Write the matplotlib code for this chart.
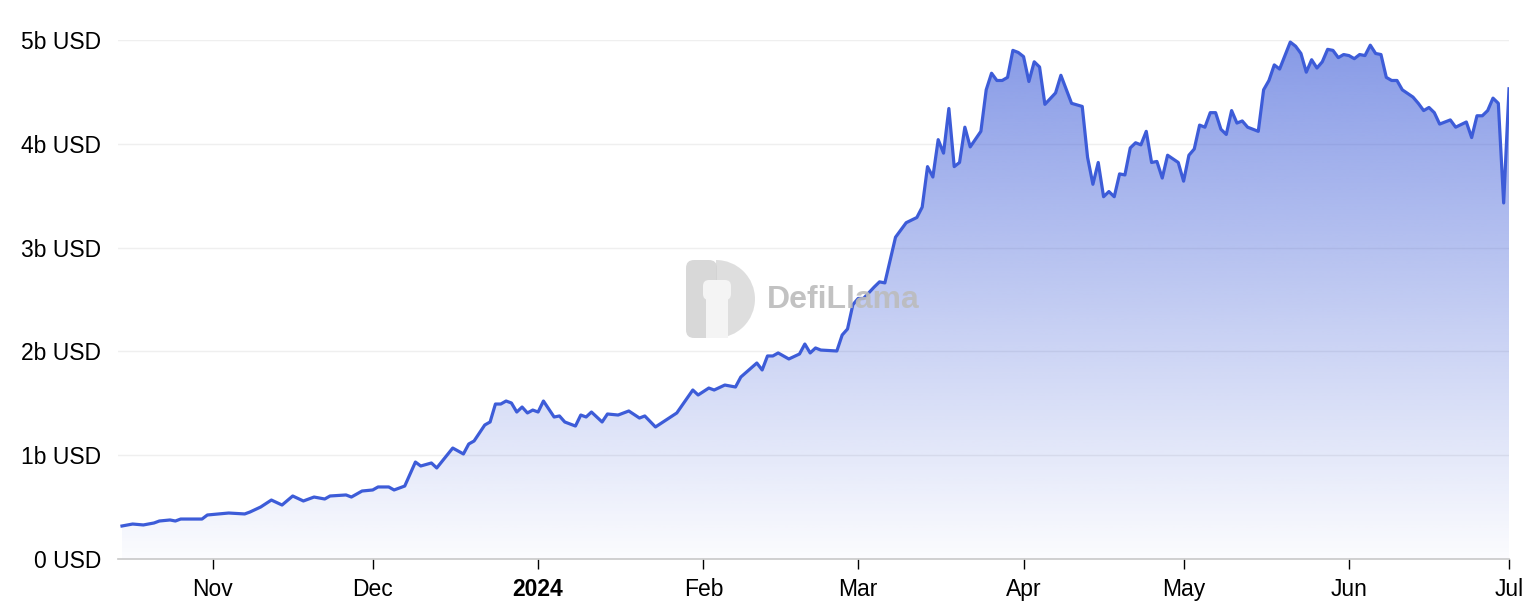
import numpy as np
import pandas as pd
import matplotlib
matplotlib.use('Agg')
import matplotlib.pyplot as plt
import matplotlib.dates as mdates
from matplotlib.patches import FancyBboxPatch, Wedge, Rectangle
from matplotlib.transforms import Affine2D

plt.rcParams['font.family'] = ['Liberation Sans', 'DejaVu Sans']

# Data: days since 2023-10-15, TVL in billions of USD
start_date = '2023-10-15'
day_offset = [
    0, 2, 4, 6, 7, 9, 10, 11, 15, 16, 18, 20, 23, 24, 26, 28, 30, 32, 34, 36,
    38, 39, 42, 43, 45, 47, 48, 50, 51, 53, 55, 56, 58, 59, 62, 64, 65, 66, 68, 69,
    70, 71, 72, 73, 74, 75, 76, 77, 78, 79, 81, 82, 83, 85, 86, 87, 88, 90, 91, 93,
    95, 97, 98, 100, 104, 107, 108, 110, 111, 113, 115, 116, 119, 120, 121, 122, 123, 125, 127, 128,
    129, 130, 131, 134, 135, 136, 137, 138, 139, 141, 142, 143, 145, 147, 149, 150, 151, 152, 153, 154,
    155, 156, 157, 158, 159, 161, 162, 163, 164, 165, 166, 167, 168, 169, 170, 171, 172, 173, 175, 176,
    178, 180, 181, 182, 183, 184, 185, 186, 187, 188, 189, 190, 191, 192, 193, 194, 195, 196, 198, 199,
    200, 201, 202, 203, 204, 205, 206, 207, 208, 209, 210, 211, 212, 213, 214, 215, 216, 217, 219, 220,
    221, 222, 223, 224, 225, 226, 227, 228, 229, 230, 231, 232, 233, 234, 235, 236, 237, 238, 239, 240,
    242, 243, 244, 245, 246, 247, 249, 250, 252, 253, 254, 255, 256, 257, 258, 259, 260,
]
tvl_b = [
    0.318, 0.337, 0.328, 0.347, 0.366, 0.376, 0.366, 0.385, 0.385, 0.424, 0.434, 0.443, 0.434, 0.453, 0.501, 0.568, 0.520, 0.607, 0.559, 0.597,
    0.578, 0.607, 0.617, 0.597, 0.655, 0.665, 0.694, 0.694, 0.665, 0.703, 0.934, 0.896, 0.925, 0.877, 1.069, 1.012, 1.108, 1.137, 1.291, 1.320,
    1.493, 1.493, 1.522, 1.503, 1.416, 1.464, 1.407, 1.435, 1.416, 1.522, 1.368, 1.378, 1.320, 1.281, 1.387, 1.368, 1.416, 1.320, 1.397, 1.387,
    1.426, 1.358, 1.378, 1.272, 1.407, 1.628, 1.580, 1.647, 1.628, 1.676, 1.657, 1.753, 1.888, 1.821, 1.956, 1.956, 1.985, 1.927, 1.975, 2.071,
    1.985, 2.033, 2.013, 2.004, 2.158, 2.216, 2.45, 2.51, 2.51, 2.62, 2.67, 2.66, 3.10, 3.24, 3.29, 3.39, 3.78, 3.68, 4.04, 3.91,
    4.34, 3.78, 3.82, 4.16, 3.97, 4.12, 4.52, 4.68, 4.61, 4.61, 4.64, 4.90, 4.88, 4.84, 4.60, 4.79, 4.74, 4.38, 4.49, 4.66,
    4.39, 4.36, 3.87, 3.61, 3.82, 3.49, 3.54, 3.49, 3.71, 3.70, 3.96, 4.01, 3.99, 4.12, 3.82, 3.83, 3.67, 3.89, 3.82, 3.64,
    3.89, 3.95, 4.18, 4.16, 4.30, 4.30, 4.14, 4.09, 4.32, 4.20, 4.22, 4.16, 4.14, 4.12, 4.52, 4.61, 4.76, 4.72, 4.98, 4.94,
    4.87, 4.69, 4.81, 4.73, 4.79, 4.91, 4.90, 4.83, 4.86, 4.85, 4.82, 4.86, 4.85, 4.95, 4.87, 4.86, 4.64, 4.61, 4.61, 4.52,
    4.45, 4.39, 4.32, 4.35, 4.30, 4.19, 4.23, 4.16, 4.21, 4.06, 4.27, 4.27, 4.32, 4.44, 4.39, 3.43, 4.53,
]

tick_dates = ['2023-11-01', '2023-12-01', '2024-01-01', '2024-02-01', '2024-03-01',
              '2024-04-01', '2024-05-01', '2024-06-01', '2024-07-01']
tick_labels = ['Nov', 'Dec', '2024', 'Feb', 'Mar', 'Apr', 'May', 'Jun', 'Jul']
y_ticks = [0, 1, 2, 3, 4, 5]

line_color = '#3d5cd8'

dates = pd.Timestamp(start_date) + pd.to_timedelta(day_offset, unit='D')
x = mdates.date2num(dates)
y = np.array(tvl_b)

fig = plt.figure(figsize=(15.34, 6.14), dpi=100)
ax = fig.add_axes([118 / 1534, 55 / 614, (1509 - 118) / 1534, (559 - 40) / 614])

x_left = x[0] - 0.75
x_right = mdates.date2num(pd.Timestamp(tick_dates[-1]))
ax.set_xlim(x_left, x_right)
ax.set_ylim(0, 5)

# gradient fill under the line, clipped to the area
grad = np.zeros((256, 2, 4))
rgb = matplotlib.colors.to_rgb(line_color)
grad[:, :, 0], grad[:, :, 1], grad[:, :, 2] = rgb
grad[:, :, 3] = np.linspace(0.62, 0.02, 256)[:, None]
poly = ax.fill_between(x, y, 0, color='none', lw=0)
img = ax.imshow(grad, extent=[x[0], x[-1], 0, 5], aspect='auto', zorder=1,
                interpolation='bicubic')
clip = poly.get_paths()[0]
img.set_clip_path(clip, transform=ax.transData)

ax.plot(x, y, color=line_color, lw=2.3, zorder=3, solid_joinstyle='round')

# grid and axes styling
for v in y_ticks[1:]:
    ax.axhline(v, color='#efefef', lw=1, zorder=0)
for s in ['top', 'right', 'left']:
    ax.spines[s].set_visible(False)
ax.spines['bottom'].set_color('#c8c8c8')
ax.spines['bottom'].set_linewidth(1.2)

ax.set_yticks(y_ticks)
ax.set_yticklabels([f'{v}b USD' if v else '0 USD' for v in y_ticks], fontsize=16.5)
ax.tick_params(axis='y', length=0, pad=12)

ax.set_xticks(mdates.date2num(pd.to_datetime(tick_dates)))
ax.set_xticklabels(tick_labels, fontsize=16.5)
ax.tick_params(axis='x', length=7, width=1, color='black', pad=7)
for lbl in ax.get_xticklabels():
    if lbl.get_text() == '2024':
        lbl.set_fontweight('bold')

# DefiLlama watermark (pixel coordinates, y measured upwards)
px = Affine2D().scale(1 / 1534, 1 / 614) + fig.transFigure
fig.patches.append(Wedge((716, 614 - 299), 39, -90, 90, transform=px,
                         facecolor='#d9d9d9', edgecolor='none', alpha=0.85, zorder=2))
fig.patches.append(FancyBboxPatch((686, 614 - 338), 31, 78,
                                  boxstyle='round,pad=0,rounding_size=8', transform=px,
                                  facecolor='#d2d2d2', edgecolor='none', alpha=0.85, zorder=2))
fig.patches.append(Rectangle((706, 614 - 338), 22, 46, transform=px,
                             facecolor='#f4f4f4', edgecolor='none', zorder=3))
fig.patches.append(FancyBboxPatch((703, 614 - 300), 28, 20,
                                  boxstyle='round,pad=0,rounding_size=6', transform=px,
                                  facecolor='#f4f4f4', edgecolor='none', zorder=3))
fig.text(843 / 1534, (614 - 300) / 614, 'DefiLlama', ha='center', va='center',
         fontsize=23, fontweight='bold', color='#bcbcbc', alpha=0.9)

fig.savefig('out.png', dpi=100)
